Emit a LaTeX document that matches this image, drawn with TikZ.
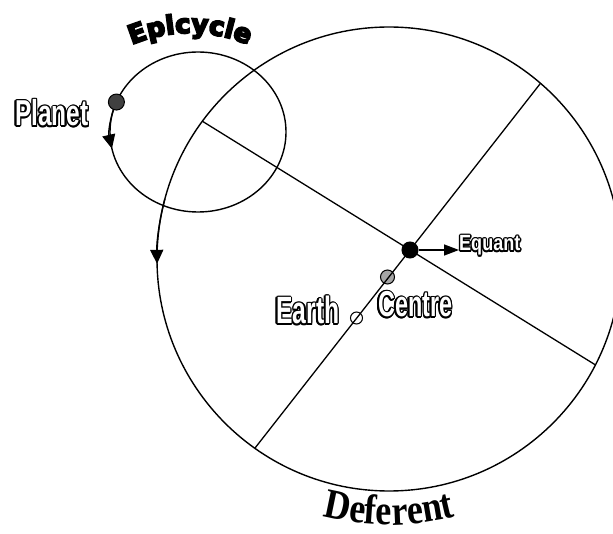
\documentclass[tikz,border=0pt]{standalone}
\usepackage{fontspec}
\usepackage{graphicx}
\newfontfamily\labelfont{Liberation Sans}
\newfontfamily\epifont{DejaVu Sans Bold}[FakeBold=7]
\newfontfamily\deffont{Liberation Serif}[FakeStretch=0.86]
\usetikzlibrary{arrows.meta,calc,decorations.text}
\definecolor{clPlanet}{HTML}{404040}
\definecolor{clCentre}{HTML}{A6A6A6}
\tikzset{
  orbit/.style={line width=1.4pt},
  chord/.style={line width=1.3pt},
  motion/.style={line width=1.4pt, -{Triangle[length=14pt, width=13pt]}},
  pointer/.style={line width=1.4pt, -{Triangle[length=15pt, width=11pt]}},
  body/.style={circle, draw, line width=1pt, inner sep=0pt},
  hollowtext/.style={anchor=base west, inner sep=0pt, font=\labelfont\bfseries},
}
% outlined (hollow) label: name, position, size, x-squeeze, text
\newcommand{\hollowlabel}[5]{%
  \foreach \ang in {0,30,...,330}
    \node[hollowtext, text=black, shift={(\ang:1.4)}] at (#2)
      {\fontsize{#3}{#3}\selectfont\scalebox{#4}[1]{#5}};
  \node[hollowtext, text=white] (#1) at (#2)
    {\fontsize{#3}{#3}\selectfont\scalebox{#4}[1]{#5}};}

\begin{document}
\begin{tikzpicture}[x=1pt, y=-1pt]
  \useasboundingbox (0,0) rectangle (613,534);
  \clip (0,0) rectangle (613,534);

  % deferent and epicycle
  \coordinate (defc) at (389,259);
  \coordinate (epic) at (198,132);
  \draw[orbit] (defc) circle[radius=232];
  \draw[orbit] (epic) ellipse[x radius=88, y radius=80];

  % earth and centre sit under the chord
  \node[body, fill=clCentre, minimum size=14pt] (centre) at (387.5,277) {};
  \node[body, fill=white, minimum size=12pt] (earth) at (356.5,318) {};

  % the two chords crossing at the equant
  \coordinate (equ) at (410,250);
  \coordinate (a1) at (202.3,121.2);
  \coordinate (a2) at (595.4,364.9);
  \coordinate (b1) at (540.5,83.3);
  \coordinate (b2) at (254.8,448.3);
  \draw[chord] (a1) -- (a2);
  \draw[chord] (b1) -- (b2);

  % sense of motion
  \draw[motion] ($(defc)+(195:232)$) arc[start angle=195, end angle=178.8, radius=232];
  \draw[motion] ($(epic)+(202:88 and 80)$) arc[start angle=202, end angle=168, x radius=88, y radius=80];

  \node[body, fill=clPlanet, minimum size=16pt] (planet) at ($(epic)+(202:88 and 80)$) {};
  \node[body, fill=black, minimum size=16pt] (equant) at (equ) {};

  % labels
  \hollowlabel{planetlbl}{15,126}{36}{0.68}{Planet}
  \hollowlabel{earthlbl}{276,324}{38}{0.65}{Earth}
  \hollowlabel{centrelbl}{378,317}{36}{0.65}{Centre}
  \hollowlabel{equantlbl}{459,251}{22}{0.82}{Equant}
  \draw[pointer] (equant) -- (equant -| equantlbl.west);

  \path[decorate, decoration={text along path, text align=center,
      text={|\epifont\fontsize{26}{26}\selectfont|Epicycle}}]
    ($(190,182)+(-126:149)$) arc[start angle=-126, end angle=-54, radius=149];
  \path[decorate, decoration={text along path, text align=center,
      text={|\deffont\bfseries\fontsize{42}{42}\selectfont|Deferent}}]
    ($(defc)+(112:266)$) arc[start angle=112, end angle=68, radius=266];
\end{tikzpicture}
\end{document}
